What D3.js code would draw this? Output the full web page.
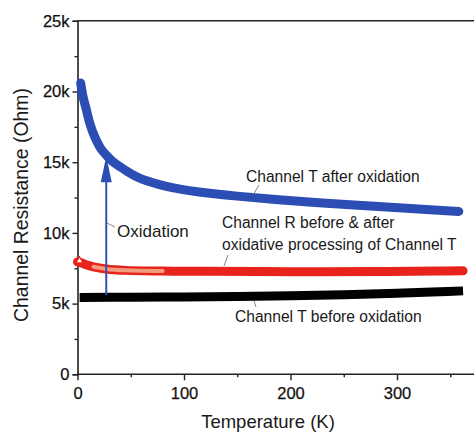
<!DOCTYPE html>
<html><head><meta charset="utf-8">
<script src="https://cdn.jsdelivr.net/npm/d3@7"></script>
<style>html,body{margin:0;padding:0;background:#fff;}svg{display:block;}</style>
</head><body>
<svg id="chart" width="474" height="432"></svg>
<script>
// Data
const blueT = [3, 5, 8, 11, 14, 18, 22, 27, 33, 40, 46, 55, 65, 77, 90, 105, 124, 150, 186, 230, 275, 320, 358];
const blueR = [20600, 19700, 18800, 17900, 17200, 16500, 15950, 15500, 15050, 14680, 14380, 13990, 13680, 13410, 13180, 12990, 12800, 12600, 12360, 12120, 11900, 11690, 11520];
const redT = [0, 3, 8, 15, 27, 45, 80, 120, 200, 280, 340, 362];
const redR = [7950, 7900, 7750, 7600, 7450, 7350, 7300, 7280, 7260, 7270, 7300, 7320];
const blackT = [2, 50, 100, 150, 200, 250, 300, 340, 362];
const blackR = [5440, 5450, 5470, 5500, 5550, 5630, 5730, 5830, 5900];
const xTicks = [0, 100, 200, 300];
const xMinor = [50, 150, 250, 350];
const yTicks = [0, 5000, 10000, 15000, 20000, 25000];
const yTickLabels = ["0", "5k", "10k", "15k", "20k", "25k"];
const yMinor = [2500, 7500, 12500, 17500, 22500];
const arrowT = 27;
const arrowFrom = 5600, arrowTo = 15500;
const xTitle = "Temperature (K)";
const yTitle = "Channel Resistance (Ohm)";

const svg = d3.select("#chart");
const x = d3.scaleLinear().domain([0, 375]).range([77.5, 476.9]);
const y = d3.scaleLinear().domain([0, 25000]).range([374.3, 20.8]);
const font = "'Liberation Sans', Arial, sans-serif";

// axes
const gx = svg.append("g").attr("transform", `translate(0,${y(0)})`)
  .call(d3.axisBottom(x).tickValues(xTicks).tickSize(6).tickPadding(7).tickFormat(d3.format("d")));
const gxm = svg.append("g").attr("transform", `translate(0,${y(0)})`)
  .call(d3.axisBottom(x).tickValues(xMinor).tickSize(3).tickFormat(""));
const gy = svg.append("g").attr("transform", `translate(${x(0)},0)`)
  .call(d3.axisLeft(y).tickValues(yTicks).tickSize(5).tickPadding(3).tickFormat(d => yTickLabels[yTicks.indexOf(d)]));
const gym = svg.append("g").attr("transform", `translate(${x(0)},0)`)
  .call(d3.axisLeft(y).tickValues(yMinor).tickSize(3).tickFormat(""));
[gx, gxm, gy, gym].forEach(g => {
  g.select(".domain").attr("stroke", "#222").attr("stroke-width", 1.6);
  g.selectAll(".tick line").attr("stroke", "#222").attr("stroke-width", 1.4);
  g.selectAll(".tick text").attr("fill", "#111").style("font-family", font).style("font-size", "16.5px")
    .attr("stroke", "#111").attr("stroke-width", 0.25);
});
gx.select(".domain").attr("d", `M${x(0)},0H474`);
gxm.select(".domain").remove();
gym.select(".domain").remove();
// top frame
svg.append("line").attr("x1", x(0)).attr("x2", 474).attr("y1", y(25000)).attr("y2", y(25000))
  .attr("stroke", "#222").attr("stroke-width", 1.6);

// titles
svg.append("text").attr("x", 268).attr("y", 428).attr("text-anchor", "middle")
  .style("font-family", font).style("font-size", "18.5px").attr("fill", "#1a1a1a").text(xTitle);
svg.append("text").attr("transform", `translate(28,205) rotate(-90)`).attr("text-anchor", "middle")
  .style("font-family", font).style("font-size", "19.4px").attr("fill", "#1a1a1a").text(yTitle);

const line = d3.line().x(d => x(d[0])).y(d => y(d[1])).curve(d3.curveCatmullRom.alpha(0.5));
const zip = (a, b) => a.map((v, i) => [v, b[i]]);

// black
svg.append("path").datum(zip(blackT, blackR)).attr("d", line)
  .attr("fill", "none").attr("stroke", "#000").attr("stroke-width", 9).attr("stroke-linecap", "butt");
// red
svg.append("path").datum(zip(redT, redR)).attr("d", line)
  .attr("fill", "none").attr("stroke", "#e8231b").attr("stroke-width", 9).attr("stroke-linecap", "round");
const redLight = zip(redT, redR).filter(d => d[0] >= 15 && d[0] <= 85);
svg.append("path").datum(redLight).attr("d", line)
  .attr("fill", "none").attr("stroke", "#f4a88a").attr("stroke-width", 4).attr("stroke-linecap", "round")
  .attr("opacity", 0.9);
svg.append("path").attr("d", d3.symbol().type(d3.symbolTriangle).size(22)())
  .attr("transform", `translate(${x(redT[0]) + 2},${y(redR[0]) - 1})`)
  .attr("fill", "#fff").attr("stroke", "#e8231b").attr("stroke-width", 1.2);
// blue
svg.append("path").datum(zip(blueT, blueR)).attr("d", line)
  .attr("fill", "none").attr("stroke", "#2b4db4").attr("stroke-width", 9).attr("stroke-linecap", "round");

// arrow
const ax = x(arrowT);
svg.append("line").attr("x1", ax).attr("x2", ax).attr("y1", y(arrowFrom)).attr("y2", y(arrowTo) + 20)
  .attr("stroke", "#3150b8").attr("stroke-width", 2);
svg.append("path").attr("d", `M${ax},${y(arrowTo) + 1}L${ax - 5.5},${y(arrowTo) + 27}L${ax + 5.5},${y(arrowTo) + 27}Z`)
  .attr("fill", "#2b4db4");

// labels
const lab = (tx, ty, s, size) => svg.append("text").attr("x", tx).attr("y", ty)
  .style("font-family", font).style("font-size", size || "15.6px").attr("fill", "#1a1a1a").text(s);
lab(117, 237, "Oxidation", "17px");
lab(246, 182, "Channel T after oxidation");
lab(222, 228, "Channel R before & after");
lab(222, 250, "oxidative processing of Channel T");
lab(235, 322, "Channel T before oxidation");
// leader lines
const leader = (x1, y1, x2, y2) => svg.append("line").attr("x1", x1).attr("y1", y1).attr("x2", x2).attr("y2", y2)
  .attr("stroke", "#777").attr("stroke-width", 0.9);
leader(107, 223, 115, 227);
leader(259, 185, 253, 195);
leader(228, 255, 224, 266);
leader(254, 301, 256, 307);
</script>
</body></html>
